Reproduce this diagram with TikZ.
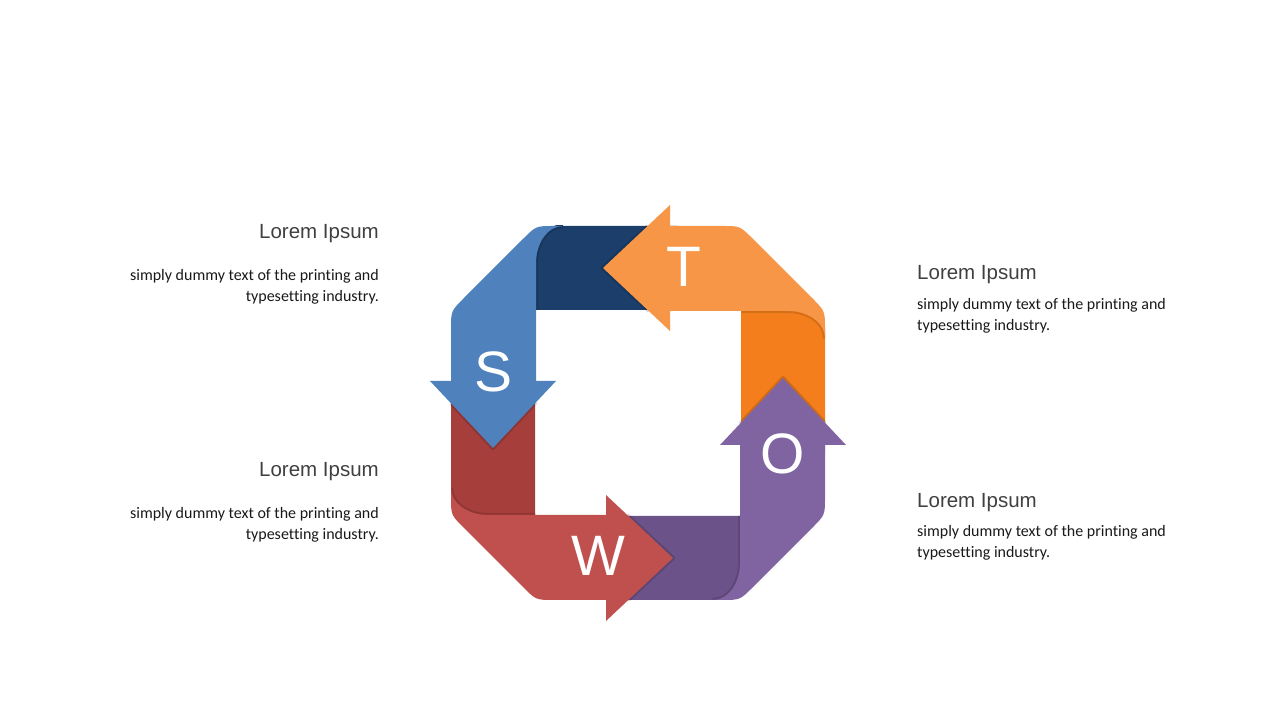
\documentclass[tikz,border=0pt]{standalone}
\usepackage{fontspec}
\setmainfont{Carlito}[Ligatures=NoCommon]
\newfontfamily\arialfont{Liberation Sans}
\definecolor{tlight}{HTML}{F79646}
\definecolor{tdark}{HTML}{F47E1B}
\definecolor{slight}{HTML}{4F81BD}
\definecolor{sdark}{HTML}{1C3E6A}
\definecolor{wlight}{HTML}{C0504D}
\definecolor{wdark}{HTML}{A63E3C}
\definecolor{olight}{HTML}{8064A2}
\definecolor{odark}{HTML}{6B5289}
\definecolor{headgray}{HTML}{404040}

\begin{document}
\begin{tikzpicture}
		[x=1pt, y=1pt,
		heading/.style={font=\arialfont\fontsize{20.5}{24}\selectfont, text=headgray, inner sep=0},
		blurb/.style={font=\fontsize{16}{21}\selectfont, text=black!90, inner sep=0},
		letter/.style={font=\arialfont\fontsize{57}{60}\selectfont, text=white, inner sep=0},
		fold/.style={line width=4},
		edge/.style={draw=black, opacity=.15, line width=4, line join=round}]
		\useasboundingbox (0,0) rectangle (1280,720);

		\begin{scope}[shift={(638,307)}]
			\foreach \ang/\dk in {0/tdark, 90/sdark, 180/wdark, 270/odark}{
				\begin{scope}[rotate=\ang]
					\fill[\dk] (103,-40) -- (187,-40) -- (187,75) arc[start angle=0, end angle=90, x radius=37, y radius=27] -- (103,102) -- cycle;
					\clip (103,-40) rectangle (187,102);
					\draw[fold, \dk!87!black] (103,102) -- (150,102) arc[start angle=90, end angle=0, x radius=37, y radius=27];
				\end{scope}
			}
			\foreach \ang/\lc/\lt/\lx/\ly in {0/tlight/T/46/146, 90/slight/S/-144/41, 180/wlight/W/-40/-143, 270/olight/O/145/-41}{
				\begin{scope}[rotate=\ang]
					\draw[edge] (10,187) -- (-35,145) -- (11,102);
					\fill[\lc] (32,102) -- (150,102) arc[start angle=90, end angle=0, x radius=37, y radius=27]
						-- (187,84) .. controls (187,102) .. (174.3,114.7)
						-- (114.7,174.3) .. controls (102,187) .. (84,187)
						-- (32,187) -- (32,208) -- (-35,145) -- (32,82) -- cycle;
				\end{scope}
				\node[letter] (\lt) at (\lx,\ly) {\lt};
			}
		\end{scope}

		\node[heading, anchor=base east] (h1) at (379,481) {Lorem Ipsum};
		\node[blurb, anchor=base east, align=right] (b1) at (379,418) {simply dummy text of the printing and\\typesetting industry.};
		\node[heading, anchor=base east] (h2) at (379,243.5) {Lorem Ipsum};
		\node[blurb, anchor=base east, align=right] (b2) at (379,180.5) {simply dummy text of the printing and\\typesetting industry.};
		\node[heading, anchor=base west] (h3) at (917,440) {Lorem Ipsum};
		\node[blurb, anchor=base west, align=left] (b3) at (917,389.5) {simply dummy text of the printing and\\typesetting industry.};
		\node[heading, anchor=base west] (h4) at (917,212) {Lorem Ipsum};
		\node[blurb, anchor=base west, align=left] (b4) at (917,162) {simply dummy text of the printing and\\typesetting industry.};
	\end{tikzpicture}
\end{document}
